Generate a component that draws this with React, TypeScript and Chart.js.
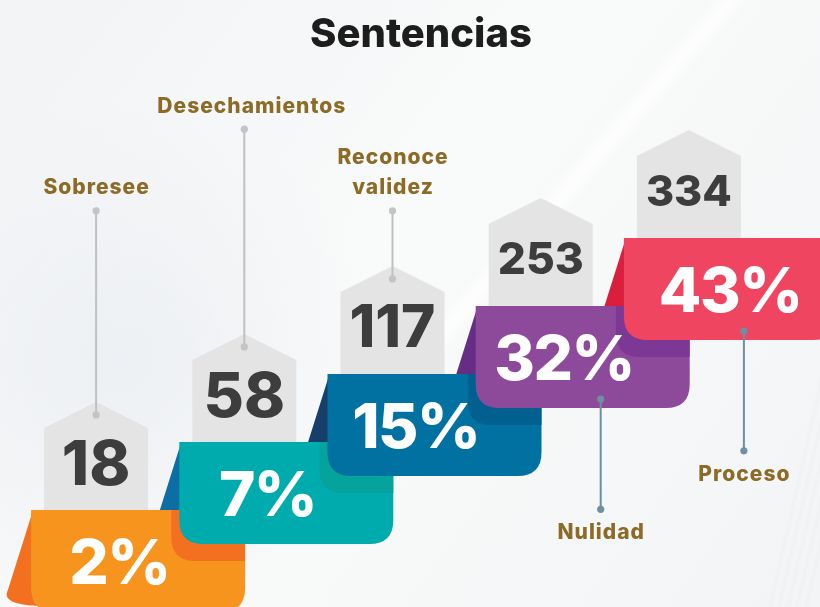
import React, { useEffect, useRef } from "react";
import { Chart, registerables } from "chart.js";

Chart.register(...registerables);

// ---------------- data ----------------
const chartTitle = "Sentencias";
const categories = ["Sobresee", "Desechamientos", "Reconoce validez", "Nulidad", "Proceso"];
const categoryLines = [["Sobresee"], ["Desechamientos"], ["Reconoce", "validez"], ["Nulidad"], ["Proceso"]];
const counts = [18, 58, 117, 253, 334];
const percents = [2, 7, 15, 32, 43];

// ---------------- style / layout ----------------
const FRONT = ["#F7941D", "#00ABAD", "#0171A1", "#8D4A9B", "#EF4560"];
const FOLD = ["#F37021", "#0D6DA5", "#173F6C", "#662D87", "#D91E3E"];
const SHADE = ["#F37021", "#05A39B", "#01608F", "#7C3894", "#D91E3E"];
const LABEL_SIDE = ["top", "top", "top", "bottom", "bottom"];
const LEADER_END = [5.9, 7.1, 5.9, 1.51, 2.37]; // in step-level units (y scale)
const LABEL_DX = [0, 7, 0, 0, 0];
const DOT_DX = [0, 0, 0, 60, 55];
const RIBBON_LEVELS = 1.5;
const TAG_LEVELS = 1.59;
const RIBBON_W = 214;
const RIBBON_SHIFT = -65;
const TAG_W = 104;
const LABEL_COLOR = "#8C6B27";
const GREY_LINE = "#C0C0C2";
const BLUE_LINE = "#6E8FA2";
const NUM_FONT = "Inter";

const ribbonRanges = counts.map((_, i) => [i, i + RIBBON_LEVELS]);
const tagRanges = counts.map((_, i) => [i + RIBBON_LEVELS, i + RIBBON_LEVELS + TAG_LEVELS]);

function roundedRect(ctx, x, y, w, h, tl, tr, br, bl) {
  ctx.beginPath();
  ctx.moveTo(x + tl, y);
  ctx.lineTo(x + w - tr, y);
  ctx.quadraticCurveTo(x + w, y, x + w, y + tr);
  ctx.lineTo(x + w, y + h - br);
  ctx.quadraticCurveTo(x + w, y + h, x + w - br, y + h);
  ctx.lineTo(x + bl, y + h);
  ctx.quadraticCurveTo(x, y + h, x, y + h - bl);
  ctx.lineTo(x, y + tl);
  ctx.quadraticCurveTo(x, y, x + tl, y);
  ctx.closePath();
}

function dot(ctx, x, y, color) {
  ctx.beginPath();
  ctx.arc(x, y, 3.6, 0, Math.PI * 2);
  ctx.fillStyle = color;
  ctx.fill();
}

function textCentered(ctx, text, x, cy, size, weight, family, color, spacing = 0) {
  ctx.font = `${weight} ${size}px ${family}`;
  try { (ctx as any).letterSpacing = `${spacing}px`; } catch (e) {}
  ctx.fillStyle = color;
  ctx.textAlign = "center";
  ctx.textBaseline = "alphabetic";
  ctx.fillText(text, x + spacing / 2, cy + size * 0.364);
  try { (ctx as any).letterSpacing = "0px"; } catch (e) {}
}

const infographic = {
  id: "infographic",
  beforeDraw(chart) {
    const { ctx, width, height } = chart;
    ctx.save();
    const g = ctx.createLinearGradient(0, 0, width, height);
    g.addColorStop(0, "#F1F3F5");
    g.addColorStop(0.45, "#F9FAFA");
    g.addColorStop(1, "#F3F4F5");
    ctx.fillStyle = g;
    ctx.fillRect(0, 0, width, height);
    const r = ctx.createRadialGradient(120, 360, 10, 120, 360, 260);
    r.addColorStop(0, "rgba(236,239,243,0.9)");
    r.addColorStop(1, "rgba(236,239,243,0)");
    ctx.fillStyle = r;
    ctx.fillRect(0, 0, width, height);
    ctx.filter = "blur(6px)";
    ctx.strokeStyle = "rgba(255,255,255,0.8)";
    ctx.lineWidth = 16;
    ctx.beginPath();
    ctx.moveTo(740, -10);
    ctx.lineTo(420, 360);
    ctx.stroke();
    ctx.filter = "blur(1px)";
    ctx.strokeStyle = "rgba(228,231,234,0.35)";
    ctx.lineWidth = 2;
    for (let k = 0; k < 5; k++) {
      ctx.beginPath();
      ctx.moveTo(840 + k * 9, 300);
      ctx.lineTo(770 + k * 9, 607);
      ctx.stroke();
    }
    ctx.filter = "none";
    ctx.restore();
  },
  afterDatasetsDraw(chart) {
    const { ctx } = chart;
    const xs = chart.scales.x;
    const ys = chart.scales.y;
    const n = counts.length;
    const geo = counts.map((_, i) => {
      const c = xs.getPixelForValue(i);
      const B = ys.getPixelForValue(ribbonRanges[i][0]);
      const T = ys.getPixelForValue(ribbonRanges[i][1]);
      const tagTop = ys.getPixelForValue(tagRanges[i][1]);
      const L = c + RIBBON_SHIFT;
      return { c, L, T, B, H: B - T, tagTop };
    });
    ctx.save();

    // title
    textCentered(ctx, chartTitle, 421, 32.5, 40, 800, "Inter", "#1D1D1D");

    // folds (behind everything)
    geo.forEach((g, i) => {
      const s = 0.29;
      ctx.beginPath();
      ctx.moveTo(g.L + 2, g.T);
      ctx.lineTo(g.L - s * (g.H - 22), g.T + g.H - 22);
      ctx.quadraticCurveTo(g.L - s * g.H - 2, g.T + g.H - 6, g.L + 14, g.T + g.H - 6);
      ctx.lineTo(g.L + 24, g.T + g.H - 6);
      ctx.lineTo(g.L + 24, g.T);
      ctx.closePath();
      ctx.fillStyle = FOLD[i];
      ctx.fill();
    });

    // tags
    geo.forEach((g) => {
      const hw = TAG_W / 2;
      ctx.beginPath();
      ctx.moveTo(g.c, g.tagTop);
      ctx.lineTo(g.c + hw, g.tagTop + 26);
      ctx.lineTo(g.c + hw, g.T + 1);
      ctx.lineTo(g.c - hw, g.T + 1);
      ctx.lineTo(g.c - hw, g.tagTop + 26);
      ctx.closePath();
      ctx.fillStyle = "#E4E4E4";
      ctx.fill();
    });

    // numbers in tags
    geo.forEach((g, i) => {
      const txt = String(counts[i]);
      ctx.font = `800 100px ${NUM_FONT}`;
      const w100 = ctx.measureText(txt).width;
      const size = Math.min(62, (86 / w100) * 100);
      textCentered(ctx, txt, g.c, g.T - 48, size, 800, NUM_FONT, "#3D3D3D");
    });

    // ribbons
    geo.forEach((g, i) => {
      roundedRect(ctx, g.L, g.T, RIBBON_W, g.H, 0, 0, 24, 24);
      ctx.fillStyle = FRONT[i];
      ctx.fill();
      if (i < n - 1) {
        const nx = geo[i + 1];
        ctx.save();
        roundedRect(ctx, g.L, g.T, RIBBON_W, g.H, 0, 0, 24, 24);
        ctx.clip();
        roundedRect(ctx, nx.L - 8, nx.T + 17, RIBBON_W, nx.H, 0, 0, 24, 24);
        ctx.fillStyle = SHADE[i];
        ctx.fill();
        ctx.restore();
      }
      const px = g.L + (i === n - 1 ? 107 : 89);
      textCentered(ctx, `${percents[i]}%`, px, g.T + 51, 62, 800, NUM_FONT, "#FFFFFF", -1.5);
    });

    // leaders and labels
    geo.forEach((g, i) => {
      const endY = ys.getPixelForValue(LEADER_END[i]);
      if (LABEL_SIDE[i] === "top") {
        const startY = g.tagTop + 13;
        ctx.strokeStyle = GREY_LINE;
        ctx.lineWidth = 2;
        ctx.beginPath();
        ctx.moveTo(g.c, startY);
        ctx.lineTo(g.c, endY);
        ctx.stroke();
        dot(ctx, g.c, startY, "#C4C4C6");
        dot(ctx, g.c, endY, "#C4C4C6");
        const lines = categoryLines[i];
        lines.forEach((ln, k) => {
          const cy = endY - 24 - (lines.length - 1 - k) * 30;
          textCentered(ctx, ln, g.c + LABEL_DX[i], cy, 21, 800, "Inter", LABEL_COLOR, 1);
        });
      } else {
        const x = g.c + DOT_DX[i];
        const startY = g.B - 9;
        ctx.strokeStyle = BLUE_LINE;
        ctx.lineWidth = 2;
        ctx.beginPath();
        ctx.moveTo(x, startY);
        ctx.lineTo(x, endY);
        ctx.stroke();
        dot(ctx, x, startY, BLUE_LINE);
        dot(ctx, x, endY, BLUE_LINE);
        categoryLines[i].forEach((ln, k) => {
          textCentered(ctx, ln, x + LABEL_DX[i], endY + 22 + k * 30, 21, 800, "Inter", LABEL_COLOR, 1);
        });
      }
    });

    ctx.restore();
  },
};

export default function App() {
  const ref = useRef<HTMLCanvasElement | null>(null);
  useEffect(() => {
    if (!ref.current) return;
    const chart = new Chart(ref.current, {
      type: "bar",
      data: {
        labels: categories,
        datasets: [
          {
            label: "Porcentaje",
            data: ribbonRanges as any,
            backgroundColor: "rgba(0,0,0,0)",
            barThickness: RIBBON_W,
            grouped: false,
          },
          {
            label: "Sentencias",
            data: tagRanges as any,
            backgroundColor: "rgba(0,0,0,0)",
            barThickness: TAG_W,
            grouped: false,
          },
        ],
      },
      options: {
        animation: false,
        responsive: false,
        events: [],
        layout: { padding: { left: 22, right: 57, top: 0, bottom: 0 } },
        scales: {
          x: { display: false, offset: true },
          y: { display: false, min: 0.074, max: 9 },
        },
        plugins: {
          legend: { display: false },
          tooltip: { enabled: false },
          title: { display: false },
        },
      },
      plugins: [infographic],
    });
    return () => chart.destroy();
  }, []);
  return (
    <div style={{ position: "fixed", left: 0, top: 0, width: 820, height: 607 }}>
      <canvas ref={ref} width={820} height={607} style={{ display: "block" }} />
    </div>
  );
}
